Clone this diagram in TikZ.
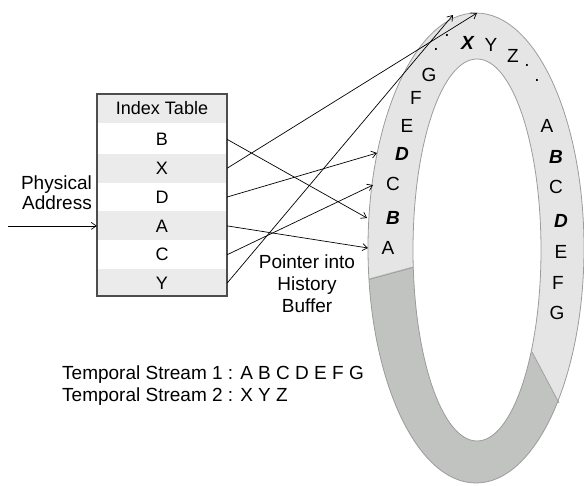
\documentclass[tikz,border=0pt]{standalone}
\usepackage{fontspec}
\setmainfont{Liberation Sans}
\usetikzlibrary{arrows.meta}
\definecolor{rowgray}{HTML}{EBEBEB}
\definecolor{ringlight}{HTML}{E5E5E5}
\definecolor{ringdark}{HTML}{C1C3C1}
\definecolor{ringedge}{HTML}{9C9C9C}
\definecolor{tableedge}{HTML}{4D4D4D}
\tikzset{
  lbl/.style={inner sep=0pt, font=\fontsize{19}{22}\selectfont},
  trow/.style={inner sep=0pt, minimum width=130pt, minimum height=28.83pt, font=\fontsize{18}{22}\selectfont},
  conn/.style={line width=0.7pt, -{Straight Barb[length=5pt,width=7pt]}},
  ringline/.style={draw=ringedge, line width=0.8pt},
}
\begin{document}
\begin{tikzpicture}[x=1pt,y=-1pt]
\useasboundingbox (0,0) rectangle (584,485);
% ring
\fill[ringlight, even odd rule] (476,248) ellipse [x radius=108, y radius=235] (477,250) ellipse [x radius=64, y radius=191];
\begin{scope}
\clip (477,249) -- (277,303.5) -- (277,700) -- (700,700) -- (700,670.5) -- cycle;
\fill[ringdark, even odd rule] (476,248) ellipse [x radius=108, y radius=235] (477,250) ellipse [x radius=64, y radius=191];
\end{scope}
\draw[ringline] (369,279.5) -- (413,267.5);
\draw[ringline] (532,352) -- (559,403);
\draw[ringline] (476,248) ellipse [x radius=108, y radius=235];
\draw[ringline] (477,250) ellipse [x radius=64, y radius=191];
% ring labels left
\node[lbl] (lA) at (388,248) {A};
\node[lbl] (lB) at (393,218) {\textbf{\textit{B}}};
\node[lbl] (lC) at (393,184) {C};
\node[lbl] (lD) at (402,154) {\textbf{\textit{D}}};
\node[lbl] (lE) at (407,126) {E};
\node[lbl] (lF) at (416,98) {F};
\node[lbl] (lG) at (429,75) {G};
\node[lbl] (d1) at (436,49) {.};
\node[lbl] (d2) at (447,35) {.};
\node[lbl] (lX) at (468,43) {\textbf{\textit{X}}};
\node[lbl] (lY) at (491,45) {Y};
\node[lbl] (lZ) at (513,56) {Z};
\node[lbl] (d3) at (527,65) {.};
\node[lbl] (d4) at (537,80) {.};
% ring labels right
\node[lbl] (rA) at (547,126) {A};
\node[lbl] (rB) at (556,157) {\textbf{\textit{B}}};
\node[lbl] (rC) at (556,187) {C};
\node[lbl] (rD) at (561,221) {\textbf{\textit{D}}};
\node[lbl] (rE) at (561,252) {E};
\node[lbl] (rF) at (558,283) {F};
\node[lbl] (rG) at (557,313) {G};
% table
\node[trow, fill=rowgray] (hdr) at (162,108.5) {Index Table};
\node[trow] (tB) at (162,139.4) {B};
\node[trow, fill=rowgray] (tX) at (162,168.2) {X};
\node[trow] (tD) at (162,197.0) {D};
\node[trow, fill=rowgray] (tA) at (162,225.9) {A};
\node[trow] (tC) at (162,254.7) {C};
\node[trow, fill=rowgray] (tY) at (162,283.0) {Y};
\fill[white] (97,296) rectangle (227,300);
\draw[tableedge, line width=1.1pt] (97,94) rectangle (227,296);
% targets on ring
\coordinate (gB) at (367,218);
\coordinate (gX) at (477,13);
\coordinate (gD) at (377,153);
\coordinate (gA) at (368,248);
\coordinate (gC) at (373,185);
\coordinate (gY) at (453,15);
\draw[conn] (tB.east) -- (gB);
\draw[conn] (tX.east) -- (gX);
\draw[conn] (tD.east) -- (gD);
\draw[conn] (tA.east) -- (gA);
\draw[conn] (tC.east) -- (gC);
\draw[conn] (tY.east) -- (gY);
% physical address
\node[lbl, align=right, anchor=east, font=\fontsize{19}{20}\selectfont] (phys) at (92,193) {Physical\\Address};
\coordinate (pin) at (8,225.9);
\draw[conn] (pin) -- (tA.west);
% pointer text
\node[lbl, align=center] (ptr) at (307,284) {Pointer into\\History\\Buffer};
% temporal streams
\node[lbl, align=left, anchor=west] (ts) at (62,385.5) {Temporal Stream 1 : A B C D E F G\\Temporal Stream 2 : X Y Z};
\end{tikzpicture}
\end{document}
